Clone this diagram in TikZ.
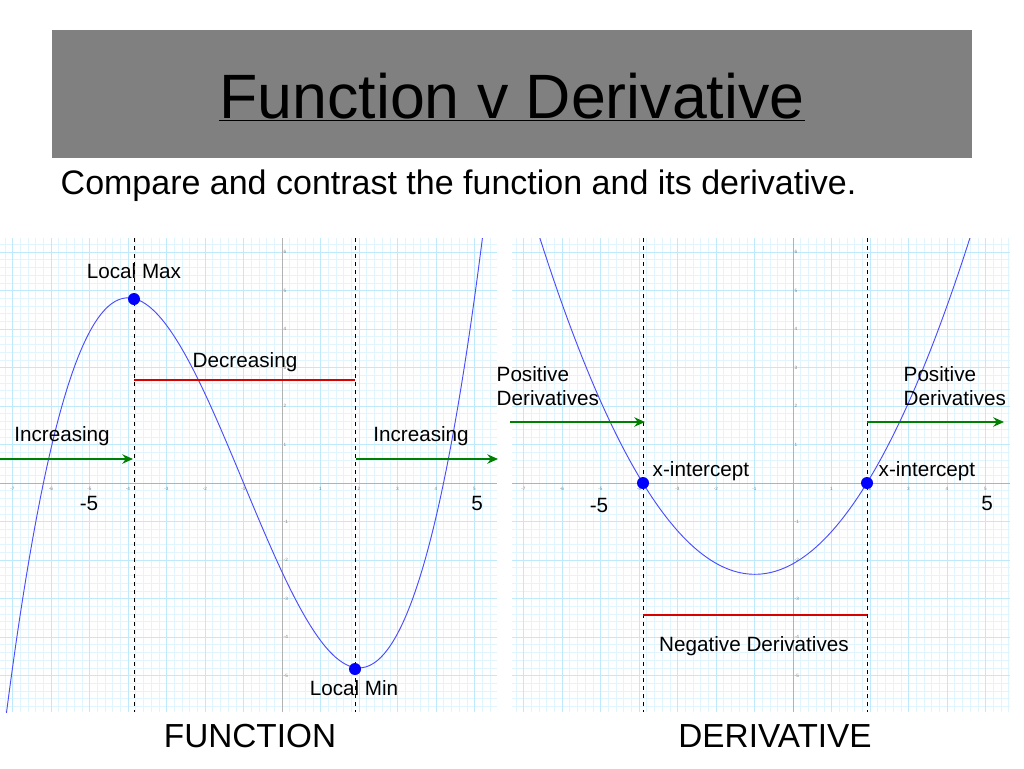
\documentclass[tikz,border=0pt]{standalone}
\usepackage{fontspec}
\setmainfont{Liberation Sans}
\usetikzlibrary{arrows.meta}
\begin{document}
\begin{tikzpicture}[x=0.75pt,y=-0.75pt,
  lbl/.style={font=\fontsize{15.5}{18}\selectfont},
  big/.style={font=\fontsize{25}{28}\selectfont},
  vdash/.style={black,dashed,line width=0.6pt},
  redl/.style={draw=red!85!black,line width=1.6pt},
  grn/.style={draw=green!50!black,line width=1.5pt,-{Stealth[length=8pt,width=7pt]}},
  dot/.style={circle,fill=blue,inner sep=0pt,minimum size=9pt},
  crv/.style={blue!70!white,line width=0.7pt},
  tk/.style={font=\fontsize{3.5}{4}\selectfont,text=gray}]
\useasboundingbox (0,0) rectangle (1024,768);
\fill[white] (0,0) rectangle (1024,768);
\node[fill=black!50,minimum width=920*0.75pt,minimum height=128*0.75pt,inner sep=0pt] (titlebox) at (512,94) {};
\node[font=\fontsize{47}{50}\selectfont] (title) at (512,97) {\underline{Function v Derivative}};
\node[anchor=west,font=\fontsize{25.5}{28}\selectfont] (sub) at (56,186) {Compare and contrast the function and its derivative.};
% panels
\foreach \ox/\xa/\xb in {282/0/497, 793/512/1010}{
  \begin{scope}
  \clip (\xa,238) rectangle (\xb,712);
  \foreach \i in {-60,...,60}{
    \draw[cyan!12,line width=0.4pt] ({\ox+38.5*\i/5},238) -- ({\ox+38.5*\i/5},712);
    \draw[cyan!12,line width=0.4pt] (\xa,{483+38.5*\i/5}) -- (\xb,{483+38.5*\i/5});}
  \foreach \i in {-12,...,12}{
    \draw[cyan!25,line width=0.5pt] ({\ox+38.5*\i},238) -- ({\ox+38.5*\i},712);
    \draw[cyan!25,line width=0.5pt] (\xa,{483+38.5*\i}) -- (\xb,{483+38.5*\i});}
  \draw[gray!60,line width=0.5pt] (\xa,483) -- (\xb,483);
  \draw[gray!60,line width=0.5pt] (\ox,238) -- (\ox,712);
  \foreach \i in {-7,...,-1,1,2,...,5}{\node[tk] at ({\ox+38.5*\i},489) {\i};}
  \foreach \i in {-5,...,-1,1,2,...,6}{\node[tk,anchor=west] at ({\ox-3},{483-38.5*\i}) {\i};}
  \end{scope}}
% function curve
\begin{scope}
\clip (0,238) rectangle (497,712);
\draw[crv] plot[domain=-7.5:5.6,samples=150,smooth] ({282+38.5*\x},{483-38.5*(0.267*(\x*\x*\x/3+\x*\x-8*\x)-2.31)});
\end{scope}
\begin{scope}
\clip (512,238) rectangle (1010,712);
\draw[crv] plot[domain=-7.5:5.6,samples=150,smooth] ({793+38.5*\x},{483-38.5*(0.28*(\x+3.9)*(\x-1.92))});
\end{scope}
% left annotations
\coordinate (la) at (134,238); \coordinate (lb) at (134,712);
\coordinate (lc) at (355,238); \coordinate (ld) at (355,712);
\draw[vdash] (la) -- (lb); \draw[vdash] (lc) -- (ld);
\coordinate (r1) at (134,380); \coordinate (r2) at (355,380);
\draw[redl] (r1) -- (r2);
\coordinate (g1) at (0,459); \coordinate (g2) at (133,459);
\coordinate (g3) at (356,459); \coordinate (g4) at (498,459);
\draw[grn] (g1) -- (g2); \draw[grn] (g3) -- (g4);
\node[dot] (max) at (134,299) {};
\node[dot] (min) at (355,669) {};
\node[lbl] (lmax) at (134,271) {Local Max};
\node[lbl] (lmin) at (354,688) {Local Min};
\node[lbl] (dec) at (245,362) {Decreasing};
\node[lbl] (inc1) at (62,436) {Increasing};
\node[lbl] (inc2) at (421,436) {Increasing};
\node[lbl] (m5a) at (89,503) {-5};
\node[lbl] (p5a) at (477,503) {5};
% right annotations
\coordinate (ra) at (643,238); \coordinate (rb) at (643,712);
\coordinate (rc) at (867,238); \coordinate (rd) at (867,712);
\draw[vdash] (ra) -- (rb); \draw[vdash] (rc) -- (rd);
\coordinate (s1) at (643,615); \coordinate (s2) at (867,615);
\draw[redl] (s1) -- (s2);
\coordinate (h1) at (510,422); \coordinate (h2) at (645,422);
\coordinate (h3) at (867,422); \coordinate (h4) at (1004,422);
\draw[grn] (h1) -- (h2); \draw[grn] (h3) -- (h4);
\node[dot] (xi1) at (643,483) {};
\node[dot] (xi2) at (867,483) {};
\node[lbl,anchor=west] (xl1) at (648,471) {x-intercept};
\node[lbl,anchor=west] (xl2) at (874,471) {x-intercept};
\node[lbl,anchor=west,align=left] (pd1) at (492,386) {Positive\\Derivatives};
\node[lbl,anchor=west,align=left] (pd2) at (899,386) {Positive\\Derivatives};
\node[lbl] (nd) at (754,646) {Negative Derivatives};
\node[lbl] (m5b) at (599,505) {-5};
\node[lbl] (p5b) at (987,503) {5};
\node[big] (fn) at (250,736) {FUNCTION};
\node[big] (dv) at (775,736) {DERIVATIVE};
\end{tikzpicture}
\end{document}
